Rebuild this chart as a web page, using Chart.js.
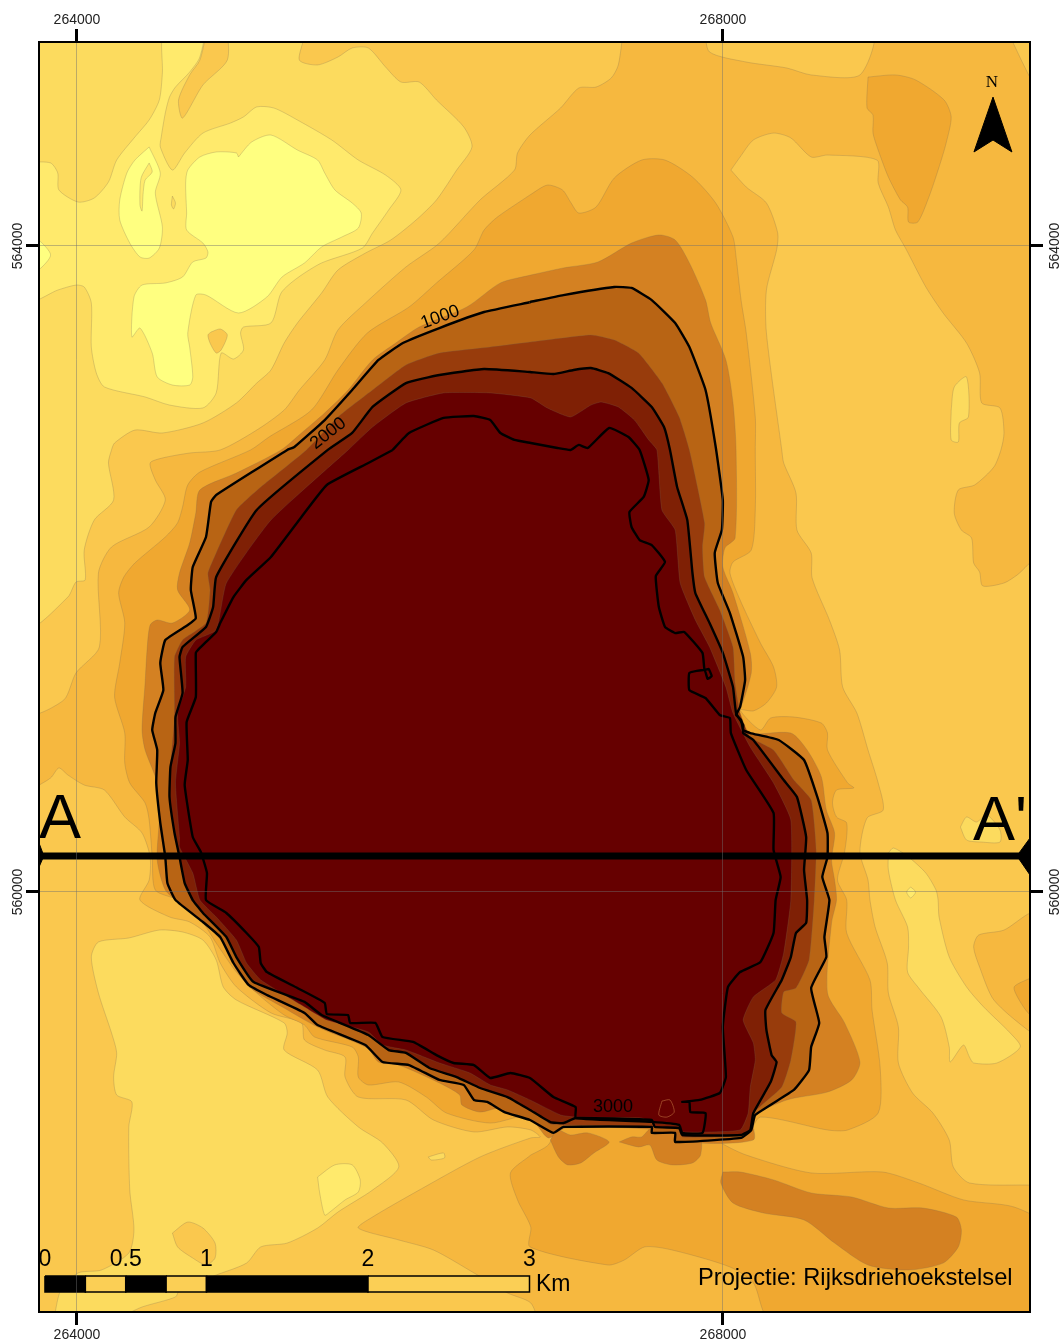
<!DOCTYPE html>
<html>
<head>
<meta charset="utf-8">
<title>Projectie: Rijksdriehoekstelsel</title>
<script src="https://cdn.jsdelivr.net/npm/chart.js@4/dist/chart.umd.min.js"></script>
<style>
body{margin:0;background:#fff}
canvas{display:block}
</style>
</head>
<body>
<canvas id="myChart" width="1060" height="1342"></canvas>
<script>
//ticks, RD metres
var xTicks = [264000, 268000];
var yTicks = [560000, 564000];

//contour areas, [easting, northing]
var mapExtent = [[263600,565400],[270100,565400],[270100,557300],[263600,557300]];

var north4 = [[267383,565337],[267352,565121],[267308,565040],[267214,564984],[267107,564978],[266994,564854],[266805,564687],[266728,564576],[266709,564470],[266496,564285],[266244,564018],[266037,563870],[265786,563647],[265616,563480],[265534,563294],[265377,563108],[265283,562984],[265113,562860],[264887,562737],[264698,562718],[264529,562687],[264453,562656],[264485,562551],[264547,562427],[264447,562260],[264214,562136],[264133,561975],[264139,561517],[263994,561356],[263919,561189],[263712,561114],[263712,565337]];
var south4 = [[263712,560631],[263837,560706],[263888,560768],[263944,560724],[264045,560662],[264170,560631],[264296,560464],[264403,560365],[264453,560216],[264447,560074],[264390,559950],[264573,559845],[264698,559814],[264824,559721],[264887,559560],[264987,559412],[265201,559251],[265390,559189],[265409,559083],[265534,559021],[265660,558978],[265660,558854],[265742,558730],[266037,558712],[266207,558588],[266458,558514],[266666,558545],[266810,558526],[266868,558483],[266810,558477],[266496,558359],[266119,558154],[265830,557987],[265742,557919],[265993,557845],[266207,557783],[266458,557641],[266666,557517],[266810,557455],[266835,557350],[263712,557350]];
var topMid4 = [[267886,565337],[267917,565201],[268144,565139],[268395,565102],[268546,565059],[268848,565059],[268923,565337]];
var topRight4 = [[269759,565337],[269903,565040],[269979,564935],[270010,565337]];
var east4 = [[268049,564470],[268106,564551],[268188,564656],[268313,564699],[268420,564669],[268546,564551],[268647,564563],[268954,564532],[268961,564390],[269024,564241],[269068,564099],[269130,563987],[269256,563746],[269363,563585],[269508,563399],[269589,563213],[269602,563028],[269715,562997],[269740,562842],[269721,562737],[269677,562631],[269558,562520],[269457,562489],[269432,562346],[269476,562241],[269539,562192],[269552,562037],[269589,561981],[269608,561895],[269740,561913],[269822,561963],[269979,562086],[270010,559870],[269903,559870],[269740,559764],[269583,559733],[269552,559659],[269589,559535],[269677,559331],[269903,559133],[270010,559083],[270010,558185],[269903,558185],[269526,558198],[269426,558297],[269401,558464],[269300,558631],[269174,558755],[269086,558941],[269086,559164],[269024,559374],[269017,559560],[268942,559783],[268910,559950],[268898,560074],[268848,560247],[268892,560458],[268992,560507],[268961,560675],[268898,560879],[268829,561108],[268741,561269],[268722,561498],[268659,561684],[268552,561944],[268546,562099],[268458,562241],[268452,562470],[268376,562656],[268364,562737],[268269,563461],[268269,563727],[268332,563975],[268339,564080],[268269,564266],[268144,564365]];

var west3 = [[263712,565337],[265396,565337],[265377,565151],[265490,565121],[265616,565170],[265704,565226],[265804,565226],[265911,565108],[266006,565015],[266119,565015],[266226,564904],[266395,564737],[266446,564613],[266351,564470],[266226,564285],[266100,564161],[265943,564037],[265786,563956],[265616,563851],[265515,563709],[265365,563523],[265283,563399],[265201,563232],[265113,563151],[264987,563028],[264780,562904],[264529,562842],[264359,562860],[264233,562780],[264214,562737],[264195,562656],[264227,562427],[264107,562303],[264045,562117],[264051,561932],[263994,561919],[263944,561826],[263712,561653]];
var south3 = [[263856,557350],[263900,557535],[264007,557641],[264152,557659],[264321,557764],[264353,557907],[264327,558154],[264321,558545],[264340,558700],[264246,558743],[264227,558854],[264246,559003],[264214,559127],[264133,559374],[264089,559597],[264133,559690],[264321,559715],[264510,559764],[264654,559752],[264780,559702],[264862,559579],[264906,559412],[264987,559331],[265283,559189],[265302,559127],[265283,559021],[265490,558897],[265553,558730],[265742,558545],[265892,558446],[265993,558297],[265830,558154],[265616,558018],[265490,557919],[265302,557826],[265138,557802],[265050,557702],[264862,557628],[264635,557535],[264610,557492],[264403,557430],[264214,557350]];
var strip3 = [[269024,560241],[269055,560272],[269149,560216],[269256,560117],[269319,560012],[269332,559950],[269338,559845],[269401,559597],[269508,559412],[269614,559288],[269778,559127],[269841,559040],[269696,558941],[269552,558941],[269526,558978],[269489,559052],[269407,558947],[269401,559040],[269350,559226],[269212,559405],[269143,559504],[269149,559659],[269143,559783],[269068,559950],[269024,560136]];
var aPrime3 = [[269470,560402],[269508,560464],[269570,560433],[269633,560477],[269715,560384],[269715,560309],[269602,560309],[269508,560322]];
var east3 = [[269413,562984],[269432,563127],[269508,563189],[269520,562941],[269464,562904],[269457,562786],[269413,562799]];
var speck3a = [[264591,564309],[264610,564266],[264598,564229],[264585,564254]];
var speck3b = [[266175,558359],[266270,558384],[266276,558353],[266194,558340]];

var main2 = [[263712,564520],[263837,564514],[263881,564452],[263888,564347],[264007,564272],[264107,564297],[264195,564396],[264246,564532],[264359,564675],[264447,564780],[264510,564904],[264529,565071],[264541,565337],[264780,565337],[264761,565170],[264698,565077],[264610,564984],[264573,564922],[264547,564823],[264522,564675],[264516,564613],[264591,564470],[264667,564576],[264780,564699],[264950,564761],[265031,564799],[265113,564861],[265220,564854],[265365,564780],[265578,564656],[265742,564532],[265911,564439],[266006,564347],[265930,564223],[265830,564080],[265767,563987],[265515,563895],[265365,563802],[265264,563709],[265201,563523],[265031,563498],[265013,563461],[265031,563356],[264969,563300],[264893,563337],[264862,563090],[264780,562997],[264573,563015],[264422,563065],[264170,563127],[264120,563213],[264089,563374],[264089,563647],[264045,563746],[263994,563758],[263881,563727],[263712,563665]];
var south2 = [[265490,558235],[265597,558310],[265704,558310],[265754,558217],[265742,558142],[265660,558093],[265566,558018],[265534,557999],[265503,558136]];
var inner2 = [[264447,564514],[264466,564458],[264422,564408],[264409,564316],[264403,564216],[264390,564254],[264397,564421]];
var speck2 = [[269162,560031],[269193,560000],[269162,559963],[269137,560000]];

var main1 = [[265000,564551],[264987,564576],[264862,564582],[264761,564551],[264686,564470],[264673,564390],[264679,564204],[264679,564099],[264780,564018],[264811,563963],[264799,563925],[264717,563901],[264654,563808],[264547,563771],[264403,563758],[264353,563684],[264340,563436],[264390,563492],[264466,563337],[264497,563189],[264591,563139],[264698,563139],[264717,563189],[264698,563374],[264686,563461],[264736,563696],[264799,563696],[265000,563585],[265176,563684],[265270,563808],[265409,563895],[265515,563994],[265641,564056],[265742,564111],[265760,564204],[265704,564266],[265597,564347],[265534,564452],[265490,564532],[265365,564594],[265201,564687],[265082,564644]];
var west1 = [[264447,564613],[264516,564452],[264485,564328],[264529,564117],[264510,563987],[264447,563925],[264390,563932],[264327,564018],[264265,564161],[264265,564285],[264309,564452],[264359,564532]];
var edge1 = [[263712,564037],[263762,564037],[263837,563944],[263762,563851],[263712,563851]];

var patchTop4 = [[264805,565337],[264918,565337],[264931,565151],[264780,564997],[264654,564792],[264629,564904],[264698,565059],[264761,565151]];
var patchMid4 = [[264830,563467],[264887,563486],[264931,563449],[264893,563356],[264862,563337],[264824,563399],[264811,563449]];
var patchSouth4 = [[264591,557888],[264686,557956],[264780,557919],[264855,557826],[264855,557733],[264799,557690],[264717,557733],[264623,557802]];

var main6 = [[266805,564316],[266912,564377],[267006,564347],[267056,564272],[267107,564204],[267214,564241],[267327,564421],[267496,564532],[267641,564532],[267811,564427],[267955,564266],[268062,564056],[268081,563932],[268112,563665],[268144,563461],[268200,562941],[268200,562737],[268200,562365],[268175,562117],[268062,562043],[268043,561975],[268106,561808],[268232,561541],[268313,561393],[268332,561269],[268269,561170],[268188,561121],[268106,561127],[268232,561003],[268295,561077],[268439,561083],[268609,561046],[268647,560984],[268647,560879],[268772,560675],[268810,560644],[268703,560631],[268678,560551],[268703,560464],[268766,560427],[268753,560247],[268709,560074],[268766,559950],[268766,559746],[268910,559455],[268923,559269],[268973,558916],[268961,558631],[268772,558526],[268647,558526],[268232,558606],[268156,558508],[267873,558464],[267245,558526],[266810,558619],[266559,558569],[266288,558631],[266163,558730],[265993,558823],[265804,558805],[265742,558854],[265742,558978],[265704,559040],[265471,559102],[265409,559176],[265283,559238],[265113,559374],[264987,559504],[264862,559684],[264780,559808],[264623,559950],[264485,560012],[264466,560216],[264447,560446],[264422,560551],[264327,560675],[264296,560799],[264296,560984],[264233,561207],[264265,561418],[264296,561665],[264258,561851],[264290,561950],[264359,562037],[264547,562198],[264623,562285],[264654,562384],[264686,562520],[264761,562600],[265075,562737],[265189,562817],[265452,562984],[265616,563232],[265798,563461],[266056,563622],[266226,563771],[266458,563975],[266521,564099],[266603,564179]];
var south6 = [[266810,558371],[266684,558260],[266728,558093],[266810,557925],[266805,557802],[267289,557690],[267389,557721],[267515,557802],[267685,557783],[268043,557678],[268188,557579],[268295,557350],[270010,557350],[270010,557919],[269803,558049],[269489,558093],[269212,558198],[268986,558266],[268546,558260],[268144,558371],[267980,558452],[267873,558557],[266994,558557],[266918,558433]];
var northEast6 = [[268898,565046],[269068,565059],[269193,565028],[269369,564904],[269413,564799],[269382,564638],[269338,564489],[269275,564303],[269206,564148],[269149,564148],[269143,564241],[269099,564285],[269024,564427],[268961,564594],[268929,564699],[268929,564811],[268892,564854]];
var east6 = [[269903,559467],[269803,559412],[269834,559331],[269903,559238],[270010,559207],[270010,559517]];

var main7 = [[266810,563820],[267012,563864],[267226,563901],[267434,564018],[267603,564068],[267704,564037],[267792,563895],[267892,563665],[267924,563523],[268018,563294],[268062,563028],[268081,562737],[268075,562192],[268012,562130],[267999,562012],[268062,561851],[268169,561480],[268175,561356],[268112,561145],[268081,561108],[268144,560984],[268420,560984],[268521,560879],[268609,560712],[268640,560507],[268691,560365],[268672,560198],[268691,560074],[268703,559950],[268672,559808],[268647,559374],[268753,559189],[268848,558947],[268797,558836],[268647,558761],[268395,558712],[268188,558606],[268188,558464],[267748,558452],[267591,558526],[267025,558538],[266918,558477],[266810,558600],[266622,558662],[266496,558637],[266383,558681],[266370,558743],[266244,558817],[265993,558928],[265867,558947],[265798,559034],[265490,559164],[265283,559281],[265075,559405],[264987,559517],[264906,559684],[264780,559814],[264635,559932],[264547,560012],[264497,560198],[264510,560464],[264497,560675],[264422,560879],[264403,561003],[264422,561294],[264434,561498],[264453,561653],[264497,561684],[264591,561665],[264698,561746],[264623,561870],[264635,561975],[264698,562161],[264736,562346],[264761,562489],[264987,562594],[265264,562737],[265390,562842],[265534,562966],[265679,563108],[265830,563294],[265974,563399],[266119,563498],[266414,563622],[266622,563771]];
var patchA7 = [[266931,558464],[266981,558359],[267038,558310],[267119,558322],[267201,558384],[267295,558452],[267163,558508],[267056,558495],[266975,558526]];
var patchB7 = [[267358,558452],[267477,558421],[267547,558433],[267591,558340],[267685,558310],[267811,558322],[267861,558371],[267855,558483],[267559,558538],[267496,558483],[267434,558483]];
var patchC7 = [[267999,558266],[268106,558266],[268313,558217],[268546,558136],[268797,558111],[269024,558043],[269237,558043],[269445,557987],[269476,557907],[269457,557802],[269363,557702],[269149,557659],[268898,557690],[268691,557826],[268502,557969],[268251,558012],[268062,558074],[267987,558198]];

var contour1000 = [[266805,563653],[267012,563696],[267327,563746],[267434,563740],[267559,563665],[267704,563523],[267792,563374],[267892,563108],[267955,562755],[267999,562427],[267993,562241],[267949,562099],[267968,561913],[268043,561727],[268125,561455],[268137,561312],[268106,561145],[268081,561096],[268112,561065],[268125,561003],[268169,560984],[268345,560941],[268502,560817],[268584,560588],[268647,560365],[268647,560216],[268615,560093],[268659,559950],[268628,559721],[268640,559597],[268546,559405],[268596,559189],[268546,559040],[268533,558897],[268439,558774],[268200,558619],[268175,558526],[268112,558477],[267704,558452],[267704,558508],[267559,558508],[267559,558545],[267012,558545],[266950,558508],[266805,558588],[266647,558637],[266540,558700],[266458,558712],[266395,558805],[266244,558836],[266056,558928],[265892,558947],[265786,559052],[265490,559176],[265409,559251],[265176,559362],[265063,559424],[264969,559560],[264887,559721],[264780,559814],[264610,559950],[264560,560055],[264547,560216],[264516,560427],[264491,560675],[264497,560879],[264466,561003],[264485,561108],[264535,561250],[264516,561418],[264547,561560],[264686,561653],[264736,561696],[264705,561870],[264717,562012],[264799,562198],[264830,562415],[264862,562458],[265302,562737],[265346,562755],[265534,562922],[265704,563108],[265867,563294],[266018,563399],[266244,563492],[266521,563591],[266810,563653]];
var band9 = [[266805,563405],[267182,563449],[267327,563418],[267477,563337],[267622,563151],[267729,562941],[267792,562737],[267886,562285],[267873,562136],[267886,561950],[267980,561746],[268062,561517],[268075,561294],[268106,561108],[268169,560960],[268313,560879],[268439,560693],[268546,560569],[268577,560260],[268565,559950],[268533,559579],[268452,559405],[268376,559381],[268364,559251],[268452,559195],[268420,558959],[268364,558792],[268188,558631],[268156,558538],[268062,558489],[267748,558483],[267716,558538],[267025,558557],[266931,558563],[266810,558650],[266603,558774],[266458,558854],[266226,558959],[266018,559021],[265911,559040],[265804,559127],[265490,559257],[265390,559374],[265113,559455],[265031,559597],[264950,559764],[264824,559870],[264705,559950],[264730,560055],[264698,560216],[264610,560322],[264579,560569],[264579,560774],[264604,561083],[264604,561455],[264654,561560],[264799,561665],[264824,561870],[264811,561975],[264862,562099],[264987,562365],[265138,562507],[265421,562737],[265616,562941],[265830,563108],[266037,563263],[266244,563337],[266559,563374]];
var contour2000 = [[266805,563220],[266950,563207],[267075,563232],[267182,563244],[267289,563213],[267434,563121],[267559,563003],[267635,562879],[267672,562737],[267716,562508],[267779,562303],[267811,561975],[267829,561851],[267917,561665],[267999,561480],[268062,561269],[268081,561108],[268125,561034],[268125,560984],[268188,560941],[268376,560693],[268458,560588],[268515,560340],[268502,560136],[268521,559950],[268515,559808],[268452,559746],[268420,559597],[268364,559455],[268263,559269],[268269,559145],[268301,558990],[268332,558947],[268295,558823],[268188,558631],[268169,558526],[268112,558495],[267748,558495],[267729,558538],[267578,558545],[267559,558588],[267088,558600],[267012,558569],[266931,558575],[266805,558650],[266666,558730],[266496,558786],[266351,558854],[266182,558910],[266037,559003],[265930,559021],[265804,559114],[265515,559238],[265409,559319],[265094,559442],[264987,559597],[264925,559721],[264780,559870],[264717,559950],[264667,560055],[264635,560216],[264604,560365],[264573,560588],[264579,560774],[264610,560922],[264610,561083],[264654,561232],[264635,561455],[264654,561517],[264799,561641],[264843,561764],[264862,561950],[265113,562365],[265553,562737],[265704,562842],[265830,563003],[266037,563151],[266244,563201],[266521,563238]];
var core11 = [[265679,562737],[265830,562879],[266037,563028],[266270,563090],[266559,563090],[266810,563059],[266912,562997],[267056,562941],[267182,563015],[267245,563034],[267352,563003],[267452,562922],[267540,562799],[267591,562737],[267622,562365],[267704,562241],[267735,561913],[267829,561684],[267917,561517],[268018,561269],[268062,561108],[268169,560897],[268313,560675],[268420,560446],[268420,559950],[268376,559622],[268326,559455],[268188,559350],[268125,559207],[268188,559065],[268200,558959],[268169,558792],[268156,558631],[268106,558526],[267748,558514],[267729,558557],[267559,558576],[267496,558600],[267088,558606],[266994,558619],[266805,558712],[266666,558774],[266559,558805],[266433,558879],[266244,558941],[266037,559021],[265892,559052],[265804,559133],[265547,559207],[265409,559288],[265138,559455],[265050,559560],[264987,559702],[264862,559845],[264761,559950],[264717,560117],[264635,560278],[264635,560334],[264610,560675],[264635,560922],[264623,561108],[264673,561269],[264673,561455],[264736,561560],[264862,561622],[264925,561913],[265201,562303]];
var contour3000 = [[265955,562737],[266056,562842],[266270,562935],[266458,562947],[266559,562922],[266622,562842],[266709,562799],[266810,562780],[266975,562749],[267056,562737],[267107,562768],[267163,562749],[267295,562873],[267415,562817],[267484,562737],[267540,562551],[267509,562446],[267421,562353],[267434,562260],[267484,562179],[267559,562148],[267641,562043],[267584,561956],[267603,561764],[267641,561641],[267704,561603],[267760,561610],[267873,561480],[267886,561374],[267911,561381],[267930,561337],[267905,561319],[267886,561374],[267792,561356],[267792,561250],[267892,561201],[267980,561096],[268043,561077],[268049,560984],[268144,560755],[268313,560489],[268313,560260],[268357,560093],[268326,559950],[268313,559746],[268232,559566],[268106,559504],[268031,559412],[267999,559164],[268018,558854],[267980,558755],[267855,558712],[267748,558700],[267792,558700],[267798,558637],[267892,558631],[267873,558508],[267748,558508],[267729,558557],[267559,558576],[267088,558600],[267088,558668],[266950,558730],[266805,558848],[266684,558879],[266559,558848],[266458,558928],[266332,558941],[266226,558990],[266081,559071],[265892,559102],[265848,559189],[265691,559189],[265679,559238],[265547,559244],[265534,559313],[265365,559405],[265176,559504],[265138,559560],[265126,559659],[265050,559746],[264925,559870],[264799,559950],[264805,560117],[264767,560247],[264717,560340],[264667,560662],[264686,560817],[264679,561052],[264736,561207],[264736,561480],[264761,561511],[264862,561610],[264887,561665],[264969,561826],[265050,561932],[265201,562074],[265390,562322],[265547,562520],[265804,562656]];
var pit = [[267622,558705],[267672,558712],[267698,558637],[267653,558606],[267603,558619]];

//section A - A'
var sectionLine = [[263765,560223],[269901,560223]];
var sectionEndA = [[263765,560303],[263795,560223],[263765,560154]];
var sectionEndB = [[269901,560334],[269820,560223],[269901,560105]];
var northArrow = [[269672,564922],[269789,564582],[269672,564656],[269554,564582]];

//scale bar, km along the bar
var barStart = 263802;
var barBreaks = [0, 0.25, 0.5, 0.75, 1, 2, 3];
var barLabels = ["0", "0.5", "1", "2", "3"];
var barLabelKm = [0, 0.5, 1, 2, 3];

var shades = {
    l1: "#FFFF80", l2: "#FFEA6C", l3: "#FCDB5E", l4: "#FAC84E", l5: "#F6B83F", l6: "#F0A830",
    l7: "#D48122", l8: "#B86414", l9: "#983C0C", l10: "#7F2005", l11: "#660000"
};
var soft = "rgba(120,105,80,0.25)";

function area(points, fillColor, lineColor, lineWidth, bend){
    var closed = points.concat([points[0]]);
    return {
        data: closed.map(function(p){ return {x: p[0], y: p[1]}; }),
        showLine: true,
        fill: fillColor ? "shape" : false,
        backgroundColor: fillColor || "transparent",
        borderColor: lineColor,
        borderWidth: lineWidth,
        pointRadius: 0,
        pointHoverRadius: 0,
        tension: bend === undefined ? 0.25 : bend
    };
}

var sets = [
    area(mapExtent, shades.l5, "transparent", 0, 0),
    area(north4, shades.l4, soft, 1),
    area(south4, shades.l4, soft, 1),
    area(topMid4, shades.l4, soft, 1),
    area(topRight4, shades.l4, soft, 1),
    area(east4, shades.l4, soft, 1),
    area(west3, shades.l3, soft, 1),
    area(south3, shades.l3, soft, 1),
    area(strip3, shades.l3, soft, 1),
    area(aPrime3, shades.l3, soft, 1),
    area(east3, shades.l3, soft, 1),
    area(speck3b, shades.l3, soft, 1),
    area(main2, shades.l2, soft, 1),
    area(south2, shades.l2, soft, 1),
    area(speck2, shades.l2, soft, 1),
    area(main1, shades.l1, soft, 1),
    area(west1, shades.l1, soft, 1),
    area(edge1, shades.l1, soft, 1),
    area(inner2, shades.l2, soft, 1),
    area(speck3a, shades.l3, soft, 1),
    area(patchTop4, shades.l4, soft, 1),
    area(patchMid4, shades.l4, soft, 1),
    area(patchSouth4, shades.l4, soft, 1),
    area(main6, shades.l6, soft, 1),
    area(south6, shades.l6, soft, 1),
    area(northEast6, shades.l6, soft, 1),
    area(east6, shades.l6, soft, 1),
    area(main7, shades.l7, soft, 1),
    area(patchA7, shades.l7, soft, 1),
    area(patchB7, shades.l7, soft, 1),
    area(patchC7, shades.l7, soft, 1),
    area(contour1000, shades.l8, soft, 1, 0.12),
    area(band9, shades.l9, soft, 1, 0.15),
    area(contour2000, shades.l10, soft, 1, 0.12),
    area(core11, shades.l11, soft, 1, 0.15),
    area(pit, null, "rgba(190,110,60,0.6)", 1),
    area(contour1000, null, "#000000", 2.4, 0.12),
    area(contour2000, null, "#000000", 2.4, 0.12),
    area(contour3000, null, "#000000", 2.4, 0.12),
    area(sectionLine, null, "#000000", 7, 0),
    area(sectionEndA, "#000000", "#000000", 1, 0),
    area(sectionEndB, "#000000", "#000000", 1, 0),
    area(northArrow, "#000000", "#000000", 1, 0)
];

//scale bar blocks
var barTop = 557622, barBottom = 557523;
for(var b = 0; b < barBreaks.length - 1; b++){
    var x1 = barStart + barBreaks[b] * 1000;
    var x2 = barStart + barBreaks[b + 1] * 1000;
    sets.push(area([[x1, barTop], [x2, barTop], [x2, barBottom], [x1, barBottom]],
        b % 2 === 0 ? "#000000" : "#FBCF55", "#000000", 1.5, 0));
}

//later datasets on top
sets.forEach(function(s, i){ s.order = -i; });

var mapText = {
    id: "mapText",
    afterDraw: function(chart){
        var c = chart.ctx, sx = chart.scales.x, sy = chart.scales.y;
        function put(text, x, y, font, angle, align){
            c.save();
            c.translate(sx.getPixelForValue(x), sy.getPixelForValue(y));
            c.rotate((angle || 0) * Math.PI / 180);
            c.font = font;
            c.fillStyle = "#000000";
            c.textAlign = align || "center";
            c.textBaseline = "alphabetic";
            c.fillText(text, 0, 0);
            c.restore();
        }
        var sans = '"Liberation Sans", Arial, sans-serif';
        put("1000", 266260, 563530, "18px " + sans, -20);
        put("2000", 265575, 562815, "18px " + sans, -38);
        put("3000", 267319, 558640, "18px " + sans, 0);
        put("A", 263895, 560334, "63px " + sans, 0);
        put("A'", 269715, 560322, "63px " + sans, 0);
        put("N", 269665, 564984, '17px "Liberation Serif", serif', 0);
        put("Projectie: Rijksdriehoekstelsel", 267845, 557566, "23.7px " + sans, 0, "left");
        put("Km", 266842, 557529, "23px " + sans, 0, "left");
        barLabels.forEach(function(t, i){
            put(t, barStart + barLabelKm[i] * 1000, 557684, "23px " + sans, 0);
        });
    }
};

function axis(position, lo, hi, values, side, onMap, gap){
    var upright = position === "left" || position === "right";
    return {
        type: "linear",
        position: position,
        min: lo,
        max: hi,
        afterBuildTicks: function(s){
            s.ticks = values.map(function(v){ return {value: v}; });
        },
        afterFit: function(s){
            if(upright) s.width = side;
            else s.height = side;
        },
        grid: {
            drawOnChartArea: onMap,
            color: "rgba(110,110,110,0.45)",
            lineWidth: 1,
            tickColor: "#000000",
            tickWidth: 3,
            tickLength: 13,
            z: 1
        },
        border: {display: true, color: "#000000", width: 2, z: 2},
        ticks: {
            autoSkip: false,
            font: {family: '"Liberation Sans", Arial, sans-serif', size: 14},
            color: "#222222",
            padding: gap,
            minRotation: upright ? 90 : 0,
            maxRotation: upright ? 90 : 0,
            crossAlign: upright ? "center" : "near",
            callback: function(v){ return String(v); }
        }
    };
}

var ctx = document.getElementById("myChart");
var myMap = new Chart(ctx, {
    type: "scatter",
    data: {datasets: sets},
    options: {
        responsive: false,
        animation: false,
        events: [],
        layout: {padding: 0},
        plugins: {legend: {display: false}, tooltip: {enabled: false}},
        scales: {
            x: axis("bottom", 263765, 269901, xTicks, 30, true, 2),
            xTop: axis("top", 263765, 269901, xTicks, 42, false, 0),
            y: axis("left", 557399, 565263, yTicks, 39, true, -15),
            yRight: axis("right", 557399, 565263, yTicks, 30, false, -11.5)
        }
    },
    plugins: [mapText]
});
</script>
</body>
</html>
